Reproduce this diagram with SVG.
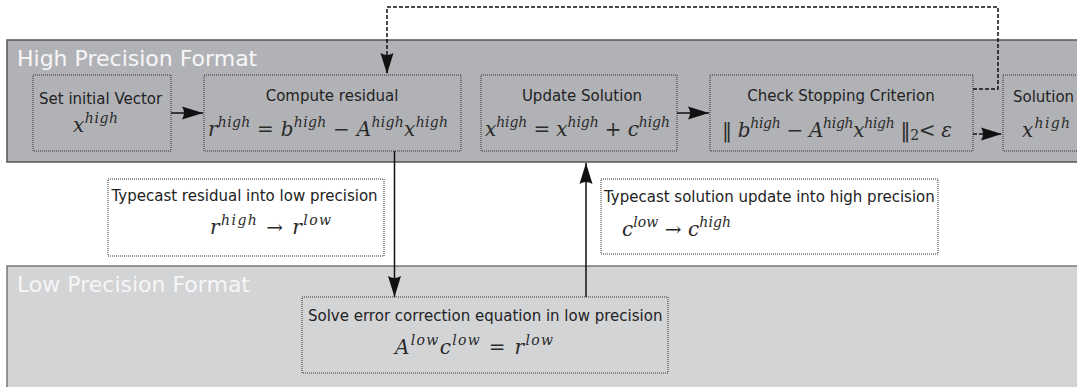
<svg xmlns="http://www.w3.org/2000/svg" width="1077" height="387" viewBox="0 0 1077 387">
<style>
.bandhi{fill:#b1b2b6;stroke:#555;stroke-width:1.5}
.bandlo{fill:#d3d4d6;stroke:#777;stroke-width:1.5}
.box{fill:none;stroke:#333;stroke-width:1;stroke-dasharray:1 1}
.boxw{fill:#fff;stroke:#333;stroke-width:1;stroke-dasharray:1 1}
.title{font-family:"DejaVu Sans",sans-serif;font-size:22px;fill:#f6f6f6}
.lbl{font-family:"DejaVu Sans",sans-serif;font-size:15px;fill:#222}
.m{font-family:"DejaVu Serif","Liberation Serif",serif;font-style:italic;font-size:20px;fill:#2a2a2a}
.s{font-size:14px}
.u{font-style:normal}
.conn{stroke:#111;stroke-width:1.5;fill:none}
.dash{stroke-dasharray:4 2}
</style>
<defs>
<marker id="ah" viewBox="-23 -8 24 16" refX="0" refY="0" markerWidth="24" markerHeight="16" markerUnits="userSpaceOnUse" orient="auto">
<path d="M0,0 L-21,-6.5 Q-17,0 -21,6.5 Z" fill="#111"/>
</marker>
</defs>
<rect width="1077" height="387" fill="#fff"/>
<g id="high-band">
<rect class="bandhi" x="7" y="40" width="1080" height="122"/>
<text class="title" x="17" y="66">High Precision Format</text>
</g>
<g id="low-band">
<rect class="bandlo" x="7" y="266" width="1080" height="130"/>
<text class="title" x="17" y="292">Low Precision Format</text>
</g>
<g id="set-initial">
<rect class="box" x="33" y="75" width="138" height="76"/>
<text class="lbl" x="39" y="104">Set initial Vector</text>
<text class="m" x="73" y="132" textLength="45" lengthAdjust="spacing">x<tspan class="s" dy="-9">high</tspan></text>
</g>
<g id="compute-residual">
<rect class="box" x="204" y="75" width="257" height="76"/>
<text class="lbl" x="332" y="101" text-anchor="middle">Compute residual</text>
<text class="m" x="208" y="136" textLength="240" lengthAdjust="spacing">r<tspan class="s" dy="-9">high</tspan><tspan class="u" dy="9"> = </tspan>b<tspan class="s" dy="-9">high</tspan><tspan class="u" dy="9"> − </tspan>A<tspan class="s" dy="-9">high</tspan><tspan dy="9">x</tspan><tspan class="s" dy="-9">high</tspan></text>
</g>
<g id="update-solution">
<rect class="box" x="481" y="75" width="196" height="76"/>
<text class="lbl" x="582" y="101" text-anchor="middle">Update Solution</text>
<text class="m" x="485" y="136" textLength="185" lengthAdjust="spacing">x<tspan class="s" dy="-9">high</tspan><tspan class="u" dy="9"> = </tspan>x<tspan class="s" dy="-9">high</tspan><tspan class="u" dy="9"> + </tspan>c<tspan class="s" dy="-9">high</tspan></text>
</g>
<g id="check-stopping">
<rect class="box" x="710" y="75" width="263" height="76"/>
<text class="lbl" x="841" y="101" text-anchor="middle">Check Stopping Criterion</text>
<text class="m" x="722" y="137" textLength="230" lengthAdjust="spacing"><tspan class="u">‖ </tspan>b<tspan class="s" dy="-9">high</tspan><tspan class="u" dy="9"> − </tspan>A<tspan class="s" dy="-9">high</tspan><tspan dy="9">x</tspan><tspan class="s" dy="-9">high</tspan><tspan class="u" dy="9"> ‖</tspan><tspan class="s u" dy="3">2</tspan><tspan class="u" dy="-3">&lt; </tspan>ε</text>
</g>
<g id="solution">
<rect class="box" x="1003" y="75" width="90" height="76"/>
<text class="lbl" x="1013" y="102">Solution</text>
<text class="m" x="1022" y="137" textLength="48" lengthAdjust="spacing">x<tspan class="s" dy="-9">high</tspan></text>
</g>
<g id="typecast-residual">
<rect class="boxw" x="108" y="179" width="276" height="77"/>
<text class="lbl" x="111.5" y="201">Typecast residual into low precision</text>
<text class="m" x="210" y="234" textLength="121" lengthAdjust="spacing">r<tspan class="s" dy="-9">high</tspan><tspan class="u" dy="9"> → </tspan>r<tspan class="s" dy="-9">low</tspan></text>
</g>
<g id="typecast-solution">
<rect class="boxw" x="601" y="179" width="337" height="75"/>
<text class="lbl" x="604" y="202">Typecast solution update into high precision</text>
<text class="m" x="622" y="236" textLength="109" lengthAdjust="spacing">c<tspan class="s" dy="-9">low</tspan><tspan class="u" dy="9"> → </tspan>c<tspan class="s" dy="-9">high</tspan></text>
</g>
<g id="solve-error">
<rect class="box" x="302" y="297" width="366" height="76"/>
<text class="lbl" x="308" y="321">Solve error correction equation in low precision</text>
<text class="m" x="395" y="354" textLength="158" lengthAdjust="spacing">A<tspan class="s" dy="-9">low</tspan><tspan dy="9">c</tspan><tspan class="s" dy="-9">low</tspan><tspan class="u" dy="9"> = </tspan>r<tspan class="s" dy="-9">low</tspan></text>
</g>
<g id="connectors">
<path class="conn" d="M171,113 H203" marker-end="url(#ah)"/>
<path class="conn" d="M677,113 H709" marker-end="url(#ah)"/>
<path class="conn dash" d="M973,134 H1002" marker-end="url(#ah)"/>
<path class="conn dash" d="M973,89 H998 V7 H387 V74" marker-end="url(#ah)"/>
<path class="conn" d="M394.5,151 V297" marker-end="url(#ah)"/>
<path class="conn" d="M586,297 V163" marker-end="url(#ah)"/>
</g>
</svg>
